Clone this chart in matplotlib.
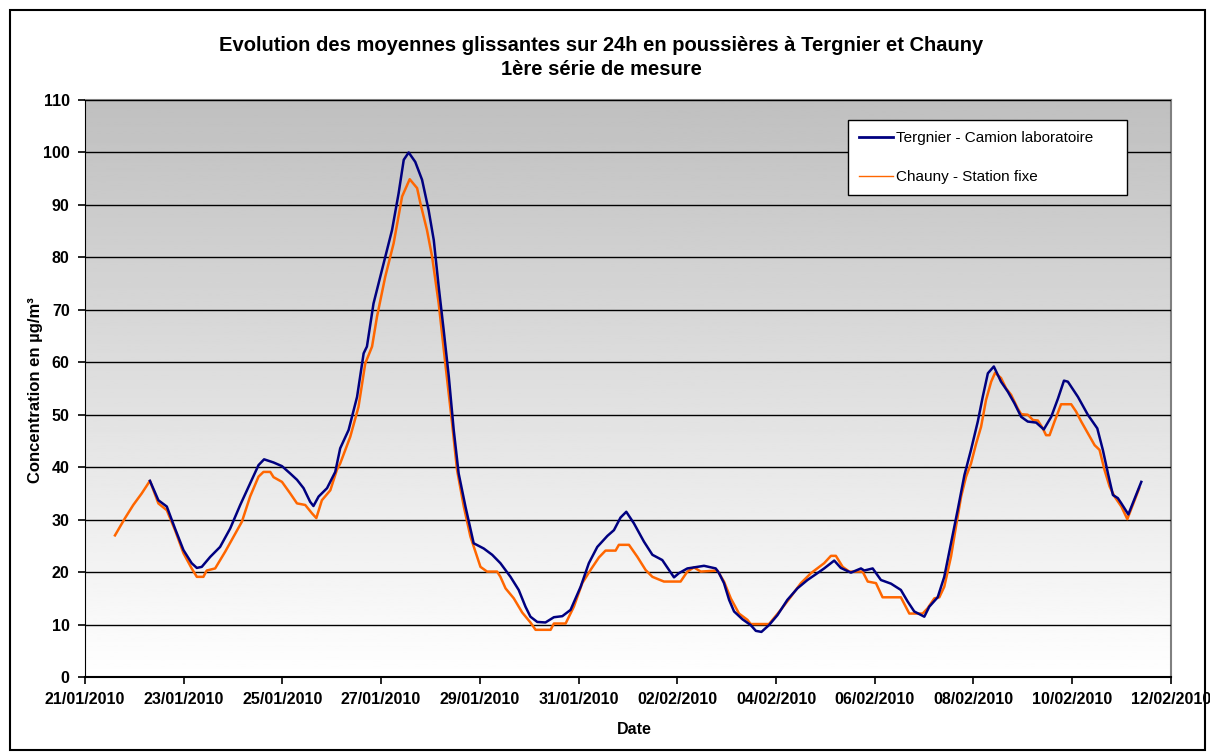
import matplotlib.pyplot as plt
import matplotlib.dates as mdates
from matplotlib.patches import Rectangle
import numpy as np
import pandas as pd

plt.rcParams['font.family'] = ['Liberation Sans', 'DejaVu Sans']

start = pd.Timestamp("2010-01-21 00:00")

# hours since 21/01/2010 00:00 and 24h rolling mean (µg/m3)
tergnier_h = [31.6, 35.7, 39.8, 43.8, 47.9, 51.9, 54.4, 56.8, 60.9, 65.7, 70.6, 75.5, 80.3, 84.4,
              87.1, 91.7, 95.8, 99.8, 103.1, 106.3, 109.5, 111.1, 113.6, 117.7, 121.7, 124.1, 128.2,
              132.3, 135.5, 137.1, 140.3, 145.2, 149.3, 152.5, 155.0, 157.4, 160.6, 163.9, 167.1,
              169.6, 172.0, 174.4, 176.9, 179.3, 181.7, 185.0, 189.0, 193.9, 198.0, 202.0, 206.9,
              210.9, 214.2, 216.6, 219.9, 223.9, 228.0, 232.1, 236.1, 241.0, 245.0, 249.1, 254.0,
              257.2, 260.4, 263.2, 266.9, 271.8, 275.9, 280.7, 286.4, 288.8, 292.9, 301.0, 306.7,
              308.3, 310.7, 313.2, 315.6, 319.7, 323.7, 326.2, 328.9, 332.6, 336.7, 341.5, 346.4,
              351.3, 355.4, 359.4, 364.3, 367.5, 372.4, 377.3, 378.9, 383.0, 387.0, 391.9, 396.7,
              400.0, 403.2, 408.1, 410.5, 414.6, 417.8, 421.1, 424.3, 427.6, 430.8, 434.1, 436.5,
              439.0, 441.9, 445.4, 448.7, 451.9, 455.2, 458.4, 462.5, 466.2, 469.8, 473.1, 476.0,
              477.9, 482.8, 487.6, 492.2, 494.9, 497.4, 499.8, 502.2, 503.9, 507.3, 513.6]
tergnier = [37.4, 33.7, 32.5, 28.3, 24.2, 21.7, 20.8, 21.0, 22.9, 24.8, 28.3, 32.8, 36.9, 40.4,
            41.5, 40.9, 40.2, 38.8, 37.6, 36.0, 33.4, 32.6, 34.4, 36.0, 39.1, 43.6, 47.1,
            53.4, 61.7, 63.0, 71.2, 78.8, 85.2, 92.2, 98.6, 100.0, 98.2, 94.8, 89.0,
            83.3, 74.4, 66.2, 57.3, 47.1, 38.8, 32.5, 25.5, 24.5, 23.3, 21.7, 19.1,
            16.6, 13.4, 11.5, 10.5, 10.4, 11.4, 11.6, 12.8, 17.2, 21.7, 24.8, 26.9,
            28.0, 30.4, 31.5, 29.3, 25.8, 23.3, 22.3, 19.0, 19.8, 20.7, 21.2, 20.7,
            19.8, 17.9, 14.7, 12.5, 11.0, 9.9, 8.8, 8.6, 9.9, 11.8, 14.7, 16.9,
            18.5, 19.6, 20.7, 22.2, 20.8, 19.9, 20.7, 20.3, 20.7, 18.5, 17.8, 16.6,
            14.4, 12.5, 11.5, 13.4, 15.2, 19.1, 25.5, 31.8, 38.5, 43.3, 48.7, 53.4,
            57.9, 59.2, 56.3, 54.4, 52.2, 49.6, 48.7, 48.5, 47.2, 49.6, 53.1, 56.5,
            56.3, 53.4, 50.0, 47.4, 43.3, 38.8, 34.7, 34.1, 33.1, 31.0, 37.2]

chauny_h = [14.6, 19.5, 23.5, 27.6, 31.6, 35.7, 39.8, 43.8, 47.9, 51.9, 54.4, 57.6, 59.2, 63.3,
            68.2, 72.2, 76.3, 80.3, 84.4, 86.8, 90.1, 91.7, 95.8, 99.8, 103.1, 107.1, 110.4,
            112.5, 115.2, 119.3, 122.5, 124.1, 129.0, 133.0, 136.3, 139.6, 142.0, 146.0, 150.1,
            154.2, 157.9, 161.5, 163.1, 166.3, 168.8, 172.0, 175.2, 178.5, 180.9, 184.2, 187.4,
            192.3, 195.5, 200.4, 202.0, 204.5, 208.5, 212.6, 216.6, 219.1, 226.4, 228.0, 233.7,
            237.7, 241.8, 245.8, 249.9, 253.1, 258.0, 259.6, 264.5, 268.6, 272.6, 275.9, 281.5,
            289.6, 292.9, 296.1, 299.4, 307.5, 310.7, 314.0, 318.0, 322.1, 323.7, 332.6, 338.3,
            343.2, 348.1, 353.0, 359.4, 362.7, 365.1, 368.4, 371.6, 378.1, 380.6, 384.6, 387.8,
            396.7, 398.3, 400.8, 407.3, 409.7, 413.0, 415.4, 417.8, 421.1, 423.5, 426.0, 428.4,
            430.8, 433.3, 435.7, 438.1, 440.6, 442.5, 445.4, 447.9, 450.3, 453.5, 455.2, 458.4,
            460.9, 463.3, 465.7, 467.3, 469.0, 471.4, 474.6, 479.5, 481.9, 484.4, 487.6, 490.9,
            493.3, 495.7, 498.2, 500.6, 503.9, 506.8, 512.6]
chauny = [27.0, 30.3, 32.8, 35.0, 37.4, 33.1, 31.8, 28.0, 23.6, 20.7, 19.1, 19.1, 20.3, 20.7,
          23.9, 26.7, 29.6, 34.4, 38.2, 39.1, 39.1, 38.1, 37.2, 35.0, 33.1, 32.8, 31.2,
          30.3, 33.7, 35.6, 39.5, 40.7, 45.8, 51.5, 59.8, 63.0, 68.7, 76.3, 82.7,
          91.6, 94.9, 93.2, 90.3, 85.2, 80.1, 71.2, 59.8, 48.4, 39.5, 32.5, 26.8,
          21.0, 20.1, 20.1, 19.1, 16.9, 15.0, 12.3, 10.4, 9.0, 9.0, 10.2, 10.2,
          13.4, 17.9, 20.4, 22.8, 24.1, 24.1, 25.2, 25.2, 22.9, 20.4, 19.1, 18.2,
          18.2, 20.1, 20.9, 20.1, 20.3, 18.2, 15.0, 12.1, 10.9, 10.1, 10.1, 12.8,
          15.3, 17.9, 19.8, 21.7, 23.1, 23.1, 21.0, 20.1, 20.1, 18.2, 17.9, 15.2,
          15.2, 14.0, 12.1, 12.1, 13.1, 15.0, 15.2, 17.2, 23.0, 28.7, 34.4, 38.2,
          40.7, 44.5, 47.7, 52.8, 56.3, 58.0, 57.0, 55.0, 53.8, 51.2, 50.1, 50.0,
          49.0, 48.9, 47.4, 46.1, 46.1, 48.7, 52.0, 52.0, 50.6, 48.7, 46.5, 44.2,
          43.3, 39.5, 36.3, 34.4, 32.5, 30.1, 36.0]

tick_dates = pd.date_range("2010-01-21", "2010-02-12", freq="2D")

t_terg = start + pd.to_timedelta(tergnier_h, unit="h")
t_chau = start + pd.to_timedelta(chauny_h, unit="h")

fig = plt.figure(figsize=(12.1, 7.53), dpi=100)
ax = fig.add_axes([0.0702, 0.1009, 0.8975, 0.7663])

# grey -> white gradient background
grad = np.linspace(1.0, 0.75, 256).reshape(-1, 1)
ax.imshow(grad, extent=[0, 1, 0, 1], transform=ax.transAxes, cmap="gray",
          vmin=0, vmax=1, aspect="auto", zorder=0, origin="lower")

ax.plot(t_chau, chauny, color="#FF6600", lw=1.8, label="Chauny - Station fixe", zorder=3)
ax.plot(t_terg, tergnier, color="#000080", lw=1.8, label="Tergnier - Camion laboratoire", zorder=4)

ax.set_xlim(tick_dates[0], tick_dates[-1])
ax.set_ylim(0, 110)
ax.set_yticks(np.arange(0, 111, 10))
ax.set_xticks(tick_dates)
ax.xaxis.set_major_formatter(mdates.DateFormatter("%d/%m/%Y"))
ax.yaxis.grid(True, color="black", lw=1)
ax.set_axisbelow(False)
for gl in ax.get_ygridlines():
    gl.set_zorder(1)

ax.spines['left'].set_color('black')
ax.spines['bottom'].set_color('black')
ax.spines['bottom'].set_linewidth(1.5)
ax.spines['top'].set_color('#808080')
ax.spines['right'].set_color('#808080')
ax.spines['top'].set_linewidth(1.5)
ax.spines['right'].set_linewidth(1.5)
ax.tick_params(direction="out", length=5, width=1.2, labelsize=11.5, pad=6)
for lab in ax.get_xticklabels() + ax.get_yticklabels():
    lab.set_fontweight("bold")

ax.set_xlabel("Date", fontsize=11.5, fontweight="bold")
ax.set_ylabel("Concentration en µg/m³", fontsize=12, fontweight="bold")
ax.xaxis.set_label_coords(0.506, -0.078)
ax.yaxis.set_label_coords(-0.039, 0.497)
fig.text(0.497, 0.940, "Evolution des moyennes glissantes sur 24h en poussières à Tergnier et Chauny",
         ha="center", va="center", fontsize=14.5, fontweight="bold")
fig.text(0.497, 0.908, "1ère série de mesure", ha="center", va="center", fontsize=14.5, fontweight="bold")

handles, labels = ax.get_legend_handles_labels()
leg = ax.legend(handles[::-1], labels[::-1], loc="upper left",
                bbox_to_anchor=(0.7026, 0.8336, 0.2569, 0.1317), mode="expand",
                borderaxespad=0, frameon=True, fancybox=False,
                edgecolor="black", framealpha=1, fontsize=11, borderpad=0.75,
                labelspacing=1.6, handlelength=2.2, handletextpad=0.2)
leg.get_frame().set_linewidth(1.0)
leg.get_lines()[0].set_linewidth(2)
leg.get_lines()[1].set_linewidth(1)

fig.patches.append(Rectangle((10 / 1210, 3 / 753), 1195 / 1210, 740 / 753, transform=fig.transFigure,
                             fill=False, edgecolor="black", lw=1.5))

fig.savefig("out.png", dpi=100)
